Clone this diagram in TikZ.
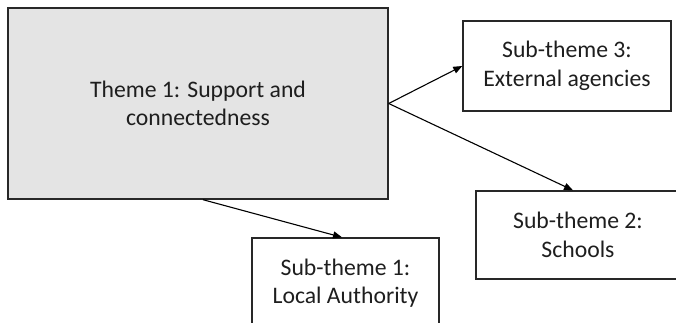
\documentclass[tikz,border=0pt]{standalone}
\usepackage{fontspec}
\setmainfont{Carlito}
\usetikzlibrary{arrows.meta,calc}
\definecolor{themefill}{RGB}{228,228,228}
\definecolor{edge}{RGB}{40,40,40}
\definecolor{ink}{RGB}{30,30,30}
\begin{document}
\begin{tikzpicture}[x=1pt,y=-1pt,
  box/.style={draw=edge,line width=1.4pt,inner sep=0pt,align=center,text=ink,
    font=\fontsize{23.7}{28.5}\selectfont},
  link/.style={draw=black,line width=1.1pt,-{Triangle[length=9pt,width=7pt]}}]
  \useasboundingbox (0,0) rectangle (676,322);
  \clip (0,0) rectangle (676,322);
  % main theme
  \node[box,fill=themefill,minimum width=380pt,minimum height=191pt] (main) at (198,103.5)
    {Theme 1: Support and\\connectedness};
  % sub-themes
  \node[box,minimum width=208pt,minimum height=90pt] (st3) at (567,66)
    {Sub-theme 3:\\External agencies};
  \node[box,minimum width=204pt,minimum height=88pt] (st2) at (578,235)
    {Sub-theme 2:\\Schools};
  \node[box,minimum width=187pt,minimum height=90pt] (st1) at (345.5,283)
    {Sub-theme 1:\\Local Authority};
  % connectors
  \draw[link] (main.east) -- (st3.west);
  \draw[link] (main.east) -- ([xshift=-5pt]st2.north);
  \draw[link] ([xshift=5pt]main.south) -- ([xshift=-3.5pt]st1.north);
\end{tikzpicture}
\end{document}
